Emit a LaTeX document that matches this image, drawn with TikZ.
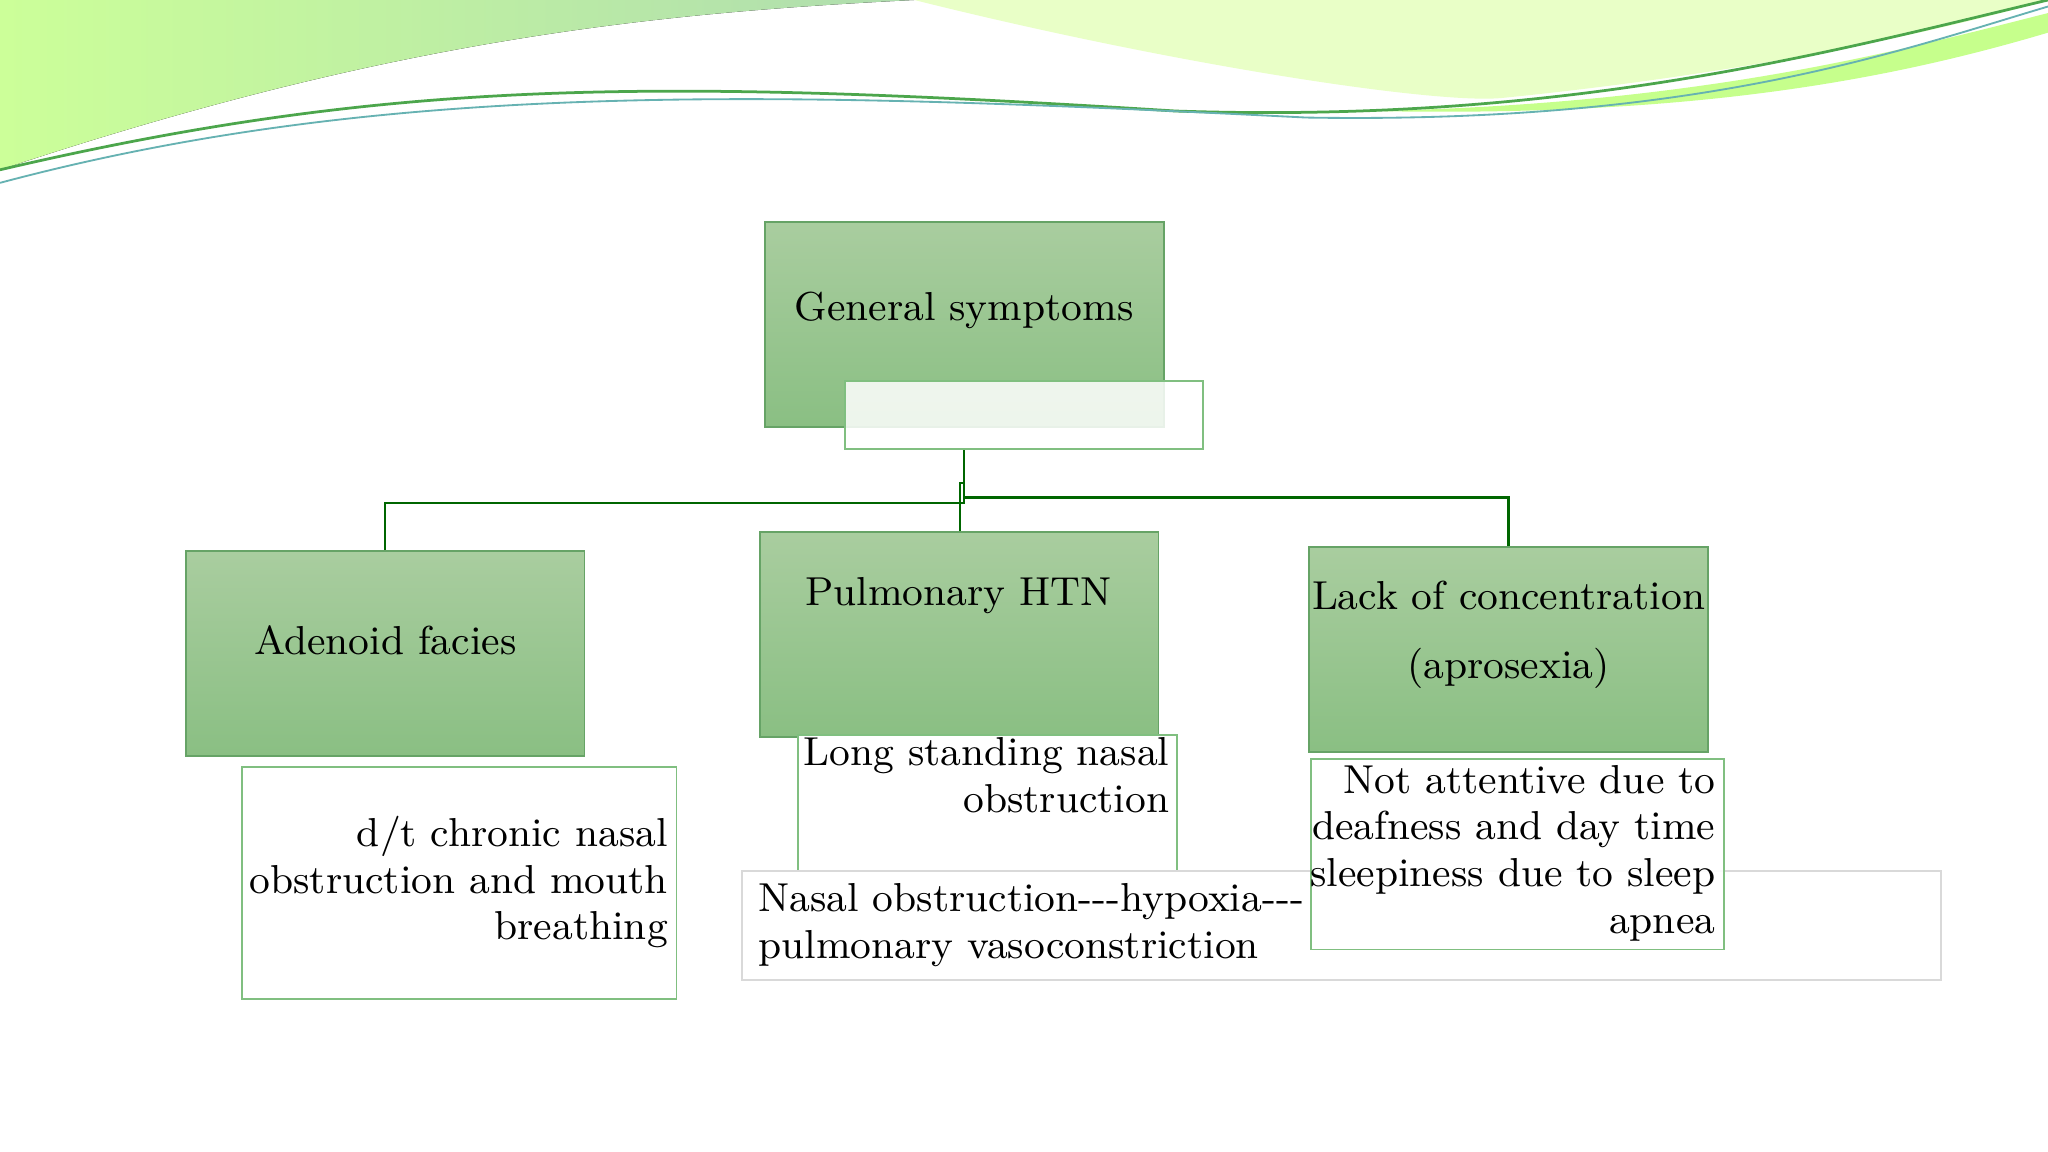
\documentclass[tikz,border=0pt]{standalone}
\usepackage{tikz}
\begin{document}
\begin{tikzpicture}[x=0.01cm,y=-0.01cm,
 gbox/.style={draw=green!40!black!60,top color={rgb,255:red,169;green,205;blue,159},bottom color={rgb,255:red,138;green,191;blue,131},rectangle,minimum width=305*0.01cm,minimum height=157*0.01cm,inner sep=0pt},
 wbox/.style={draw=green!50!black!50,fill=white,rectangle,inner sep=0pt},
 txt/.style={font=\fontsize{8.8}{10.2}\selectfont,inner sep=0pt},
 conn/.style={draw=green!40!black,line width=0.5pt}]
\useasboundingbox (0,0) rectangle (1568,882);
\fill[white] (0,0) rectangle (1568,882);
% top decoration
\fill[left color=green!50!yellow!40,right color=green!40!gray!45] (0,0) -- (0,130) .. controls (300,30) and (500,10) .. (700,0) -- cycle;
\fill[green!40!yellow!22] (700,0) .. controls (900,50) and (1100,80) .. (1150,75) .. controls (1350,55) and (1500,20) .. (1568,0) -- cycle;
\fill[green!50!yellow!45] (1050,85) .. controls (1300,80) and (1450,40) .. (1568,10) -- (1568,25) .. controls (1450,60) and (1300,90) .. (1050,85) -- cycle;
\draw[green!50!black!70,line width=0.6pt] (0,130) .. controls (300,60) and (500,60) .. (900,85) .. controls (1200,95) and (1400,40) .. (1568,0);
\draw[teal!60,line width=0.4pt] (0,140) .. controls (300,60) and (600,70) .. (1000,90) .. controls (1300,95) and (1450,40) .. (1568,5);
% nodes
\node[gbox] (gen) at (738.5,248.5) {};
\node[txt] at (738,238) {General symptoms};
\node[wbox,fill opacity=0.85,minimum width=274*0.01cm,minimum height=52*0.01cm] (gw) at (784,318) {};
\node[gbox] (ad) at (295,500.5) {};
\node[txt] at (295,490) {Adenoid facies};
\node[gbox] (pu) at (734.5,485.5) {};
\node[txt] at (734,456) {Pulmonary HTN};
\node[gbox] (la) at (1155,497) {};
\node[txt,align=center,font=\fontsize{8.8}{15}\selectfont] at (1155,486) {Lack of concentration\\(aprosexia)};
\node[wbox,minimum width=333*0.01cm,minimum height=178*0.01cm] (dt) at (351.5,676) {};
\node[txt,align=right,anchor=north east] at (512,624) {d/t chronic nasal\\obstruction and mouth\\breathing};
\node[wbox,minimum width=290*0.01cm,minimum height=104*0.01cm] (ls) at (756,615) {};
\node[txt,align=right,anchor=north east] at (896,564) {Long standing nasal\\obstruction};
\node[wbox,draw=gray!30,fill=none,minimum width=918*0.01cm,minimum height=83*0.01cm] (na) at (1027,708.5) {};
\node[txt,align=left,anchor=north west] at (580,676) {Nasal obstruction{-}{-}{-}hypoxia{-}{-}{-}\\pulmonary vasoconstriction};
\node[wbox,fill=white,fill opacity=0.9,text opacity=1,minimum width=316*0.01cm,minimum height=146*0.01cm] (nt) at (1162,654) {};
\node[txt,align=right,anchor=north east] at (1314,585) {Not attentive due to\\deafness and day time\\sleepiness due to sleep\\apnea};
% connectors
\draw[conn] (gw.south -| 738,0) -- (738,385) -| (ad.north);
\draw[conn] (738,370) -- (735,370) -- (pu.north -| 735,0);
\draw[conn] (738,381) -| (la.north);
\end{tikzpicture}
\end{document}
